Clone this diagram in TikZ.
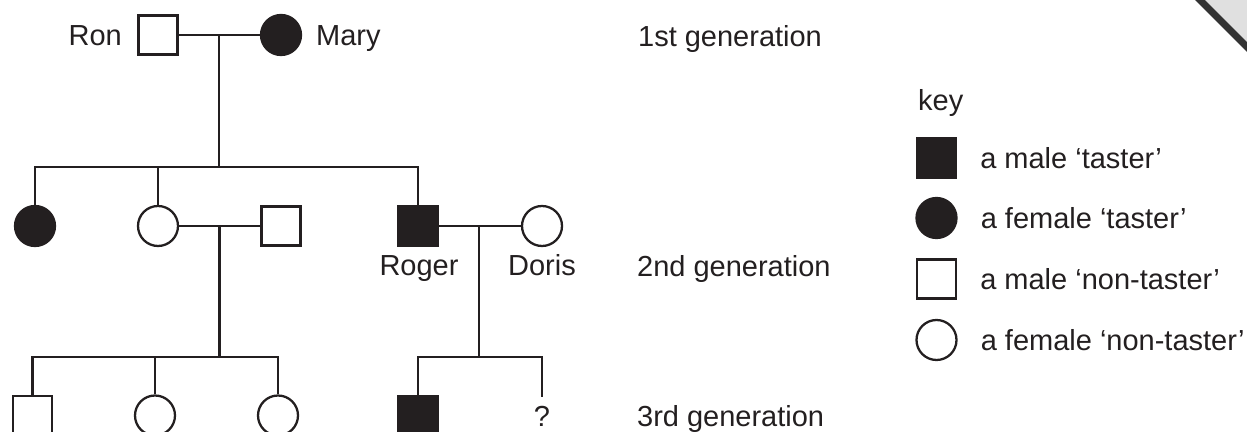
\documentclass[tikz,border=0pt]{standalone}
\usepackage{fontspec}
\setmainfont{Liberation Sans}
\usepackage{tikz}
\usetikzlibrary{positioning}
\definecolor{ink}{RGB}{35,31,32}
\newcommand{\pedfont}{\fontsize{16.5}{19}\selectfont}

\begin{document}
\begin{tikzpicture}[line width=1.3pt, color=ink,
  male/.style={draw,rectangle,minimum size=0.78cm,inner sep=0pt},
  female/.style={draw,circle,minimum size=0.80cm,inner sep=0pt},
  taster/.style={fill=ink},
  lab/.style={font=\pedfont,inner sep=0pt,text height=11.8pt,text depth=0pt}]
\clip (0,0) rectangle (24.94,-8.64);
% page corner
\fill[black!12] (24.0,0) -- (24.94,0) -- (24.94,-0.94) -- cycle;
\draw[line width=4pt,black!80] (23.9,0.1) -- (25.04,-1.04);
% 1st generation
\node[male] (10) at (3.16,-0.70) {};
\node[female,taster] (11) at (5.62,-0.70) {};
\node[lab,anchor=east] (ron) at (2.46,-0.70) {Ron};
\node[lab,anchor=west] (mary) at (6.30,-0.70) {Mary};
% 2nd generation
\node[female,taster] (20) at (0.70,-4.52) {};
\node[female] (21) at (3.16,-4.52) {};
\node[male] (22) at (5.62,-4.52) {};
\node[male,taster] (23) at (8.36,-4.52) {};
\node[female] (24) at (10.84,-4.52) {};
\node[lab] (roger) at (8.38,-5.30) {Roger};
\node[lab] (doris) at (10.84,-5.30) {Doris};
% 3rd generation
\node[male] (30) at (0.65,-8.31) {};
\node[female] (31) at (3.10,-8.31) {};
\node[female] (32) at (5.56,-8.31) {};
\node[male,taster] (33) at (8.36,-8.31) {};
\node[lab] (34) at (10.84,-8.32) {?};
\coordinate (q) at (10.84,-7.94);
% lines
\coordinate (m1) at (4.38,-0.70);
\coordinate (s2) at (4.38,-3.34);
\coordinate (m2) at (4.39,-4.52);
\coordinate (s3) at (4.39,-7.14);
\coordinate (m3) at (9.58,-4.52);
\coordinate (s4) at (9.58,-7.14);
\draw (10) -- (11);
\draw (m1) -- (s2);
\draw (20) |- (s2) -| (23);
\draw (21) |- (s2);
\draw (21) -- (22);
\draw (m2) -- (s3);
\draw (30) |- (s3) -| (32);
\draw (31) |- (s3);
\draw (23) -- (24);
\draw (m3) -- (s4);
\draw (33) |- (s4) -| (q);
% generations
\node[lab,anchor=west] (g1) at (12.74,-0.72) {1st generation};
\node[lab,anchor=west] (g2) at (12.72,-5.32) {2nd generation};
\node[lab,anchor=west] (g3) at (12.72,-8.32) {3rd generation};
% key
\node[lab,anchor=west] (key) at (18.34,-2.00) {key};
\node[male,taster] (k1) at (18.73,-3.16) {};
\node[female,taster] (k2) at (18.73,-4.36) {};
\node[male] (k3) at (18.73,-5.58) {};
\node[female] (k4) at (18.73,-6.80) {};
\node[lab,right=0.44cm of k1] (t1) {a male ‘taster’};
\node[lab,right=0.44cm of k2] (t2) {a female ‘taster’};
\node[lab,right=0.44cm of k3] (t3) {a male ‘non-taster’};
\node[lab,right=0.44cm of k4] (t4) {a female ‘non-taster’};
\end{tikzpicture}
\end{document}
